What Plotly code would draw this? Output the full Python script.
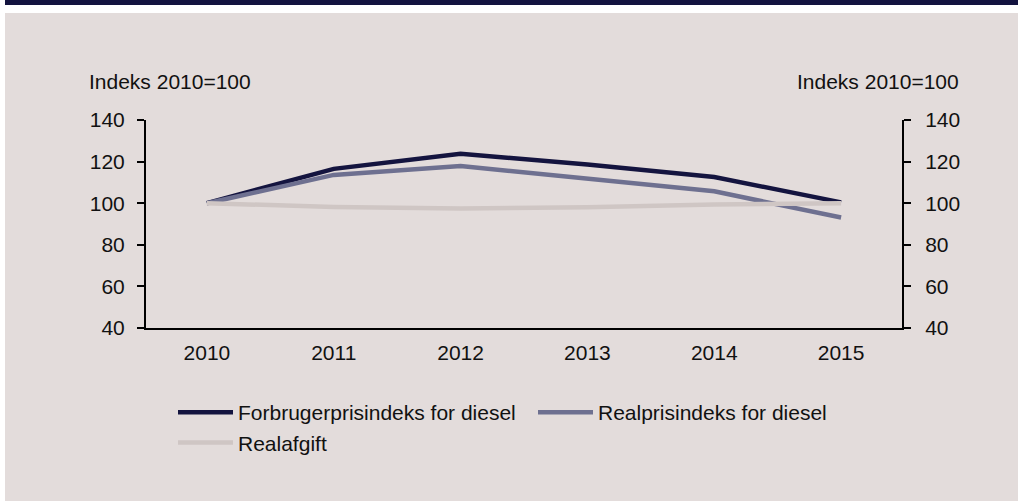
import plotly.graph_objects as go

years = ["2010", "2011", "2012", "2013", "2014", "2015"]
forbruger = [100, 116.5, 123.8, 118.6, 112.6, 100.4]
realpris = [100, 113.6, 117.9, 111.6, 105.7, 93.1]
realafgift = [100, 98.2, 97.5, 98.0, 99.4, 100.0]

names = ["Forbrugerprisindeks for diesel", "Realprisindeks for diesel", "Realafgift"]
colors = ["#14143f", "#6e7090", "#cfc6c4"]
yticks = [40, 60, 80, 100, 120, 140]
axis_label = "Indeks 2010=100"

W, H = 1018, 501
L, R, T, B = 146, 902, 120, 328
FONT = "Liberation Sans, Arial, sans-serif"
FS = 21
BG = "#e3dcdb"


def px(x):
    return (x - L) / (R - L)


def py(y):
    return (B - y) / (B - T)


fig = go.Figure()
for name, vals, col in zip(names, [forbruger, realpris, realafgift], colors):
    fig.add_trace(go.Scatter(x=years, y=vals, name=name, mode="lines",
                             line=dict(color=col, width=4.5)))
# invisible trace to carry the right axis
fig.add_trace(go.Scatter(x=years, y=realafgift, yaxis="y2", mode="lines",
                         line=dict(width=0), showlegend=False, hoverinfo="skip"))

fig.update_layout(
    width=W, height=H,
    margin=dict(l=L, r=W - R, t=T, b=H - B),
    paper_bgcolor=BG, plot_bgcolor=BG,
    font=dict(family=FONT, size=FS, color="#111111"),
    xaxis=dict(type="category", range=[-0.48, 5.48], showgrid=False,
               showline=True, linecolor="#000000", linewidth=2,
               ticks="", tickfont=dict(size=FS), zeroline=False,
               ticklabelstandoff=5),
    yaxis=dict(range=[40, 140], tickvals=yticks, showgrid=False,
               showline=True, linecolor="#000000", linewidth=2,
               ticks="outside", ticklen=7, tickwidth=1.5, tickcolor="#000000",
               zeroline=False, tickfont=dict(size=FS), ticklabelstandoff=8),
    yaxis2=dict(range=[40, 140], tickvals=yticks, overlaying="y", side="right",
                showgrid=False, showline=True, linecolor="#000000", linewidth=2,
                ticks="outside", ticklen=7, tickwidth=1.5, tickcolor="#000000",
                zeroline=False, tickfont=dict(size=FS), ticklabelstandoff=10),
    showlegend=True,
    legend=dict(orientation="h", x=px(173), y=py(392), xanchor="left", yanchor="top",
                bgcolor="rgba(0,0,0,0)", entrywidth=290, entrywidthmode="pixels",
                font=dict(size=FS), itemwidth=55, tracegroupgap=0),
    shapes=[
        dict(type="rect", xref="paper", yref="paper", x0=px(-10), x1=px(5), y0=py(-10), y1=py(520),
             fillcolor="#ffffff", line=dict(width=0), layer="below"),
        dict(type="rect", xref="paper", yref="paper", x0=px(-10), x1=px(1030), y0=py(-10), y1=py(13),
             fillcolor="#ffffff", line=dict(width=0), layer="below"),
        dict(type="rect", xref="paper", yref="paper", x0=px(5), x1=px(1030), y0=py(-10), y1=py(5),
             fillcolor="#13133f", line=dict(width=0), layer="below"),
    ],
    annotations=[
        dict(text=axis_label, xref="paper", yref="paper", x=px(87), y=py(81),
             xanchor="left", yanchor="middle", showarrow=False, font=dict(size=FS)),
        dict(text=axis_label, xref="paper", yref="paper", x=px(961), y=py(81),
             xanchor="right", yanchor="middle", showarrow=False, font=dict(size=FS)),
    ],
)

fig.write_html("out.html", config={"displayModeBar": False},
               post_script="document.body.style.margin='0';")
